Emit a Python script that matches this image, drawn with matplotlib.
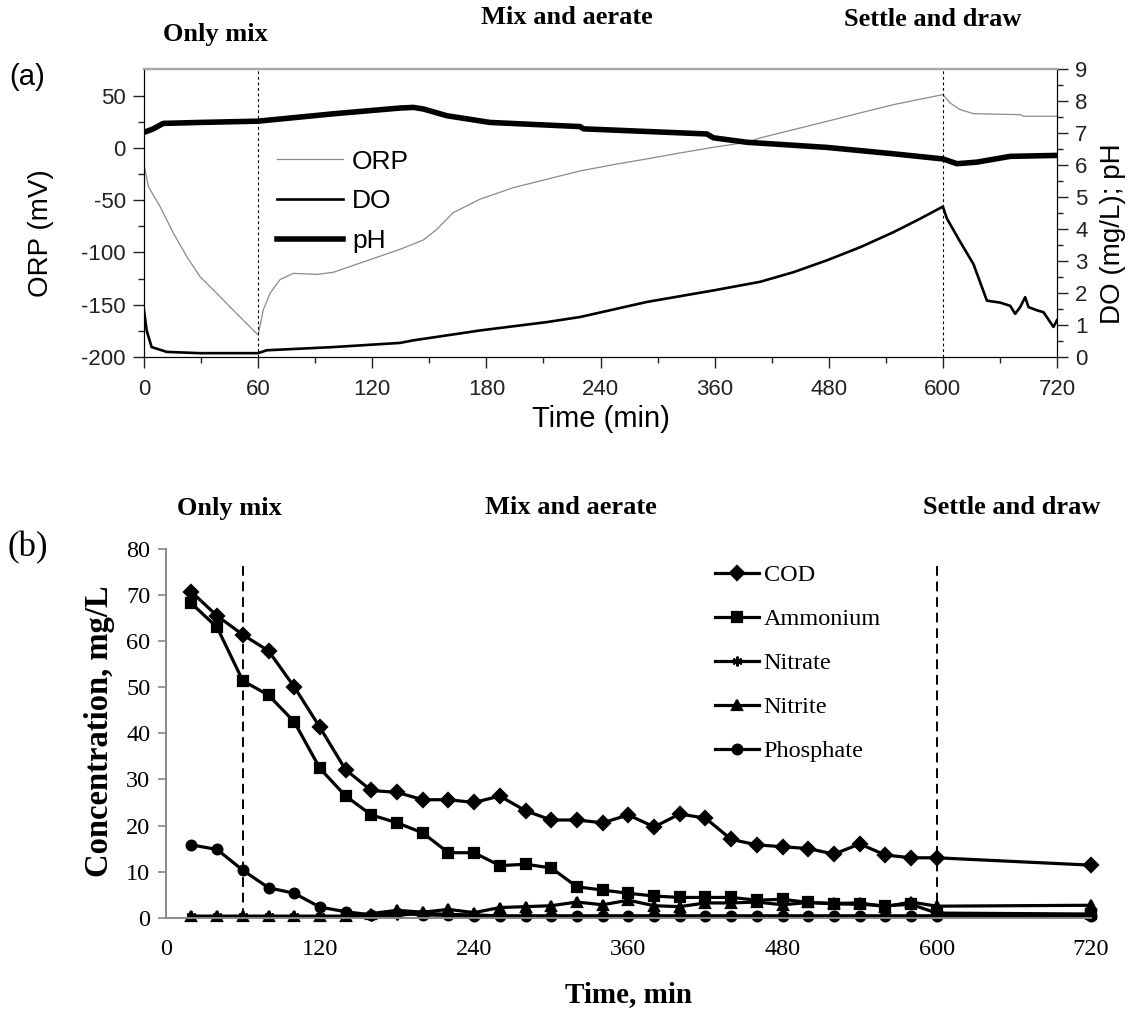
import numpy as np
import matplotlib
matplotlib.use('Agg')
import matplotlib.pyplot as plt
import matplotlib.ticker as mticker

plt.rcParams['font.family'] = ['Liberation Sans', 'DejaVu Sans']
plt.rcParams['axes.unicode_minus'] = False

# ---- panel (a): online probes (time in min) ----
orp_t = [0, 2.3, 8.4, 15.3, 22.5, 29.4, 38.2, 46.8, 60, 62.7, 66.3, 71.5, 78.5,
         90.8, 99.5, 117, 134.6, 146.9, 153.9, 162.5, 176.7, 194.2, 211.7, 229.3,
         253.6, 288.7, 323.7, 358.7, 393.9, 407.9, 442.9, 478, 513, 548, 600,
         607.7, 618.2, 632.2, 681.3, 684.8, 720]
orp_mv = [-16, -37, -56, -81, -104, -123, -139, -155, -179, -155, -139, -126, -120,
          -121, -119, -108, -97, -88, -78, -62, -49, -38, -30, -22,
          -16, -10.5, -4.8, 0.6, 5.4, 9.6, 17.5, 25.4, 33.5, 41.4, 51,
          43, 36.6, 32.8, 31.8, 30.3, 30.3]

do_t = [0, 1.4, 4.0, 11.9, 29.4, 60, 64.5, 99.5, 134.6, 141.6, 176.7, 211.7, 229.3,
        288.7, 358.7, 407.9, 442.9, 478, 513, 548, 576, 600, 604.2, 618.2, 632.2,
        646.3, 660.3, 670.8, 676, 681.3, 686.5, 690, 698.8, 705.8, 716.3, 720]
do_mgl = [1.46, 0.83, 0.31, 0.16, 0.12, 0.12, 0.21, 0.31, 0.44, 0.52, 0.83, 1.09, 1.25,
          1.72, 2.08, 2.35, 2.65, 3.02, 3.43, 3.9, 4.32, 4.7, 4.33, 3.6, 2.9,
          1.76, 1.7, 1.6, 1.35, 1.56, 1.87, 1.56, 1.46, 1.4, 0.94, 1.15]

ph_t = [0, 4.9, 10.1, 29.4, 60, 99.5, 134.6, 141.6, 146.9, 159.2, 181.9, 229.3,
        231, 351.8, 358.7, 393.9, 478, 548, 600, 614.8, 635.8, 670.8, 720]
ph_val = [7.02, 7.13, 7.3, 7.33, 7.37, 7.6, 7.78, 7.8, 7.75, 7.54, 7.33, 7.2,
          7.13, 6.97, 6.85, 6.71, 6.55, 6.35, 6.19, 6.04, 6.09, 6.27, 6.3]

a_ticks = [0, 60, 120, 180, 240, 360, 480, 600, 720]
a_minor = [30, 90, 150, 210, 300, 420, 540, 660]

# ---- panel (b): grab samples ----
t_b = [20, 40, 60, 80, 100, 120, 140, 160, 180, 200, 220, 240, 260, 280, 300, 320,
       340, 360, 380, 400, 420, 440, 460, 480, 500, 520, 540, 560, 580, 600, 720]
cod = [70.7, 65.5, 61.4, 57.9, 50.1, 41.3, 32.1, 27.6, 27.2, 25.6, 25.6, 25.0, 26.4,
       23.2, 21.2, 21.2, 20.6, 22.3, 19.7, 22.5, 21.6, 17.0, 15.8, 15.4, 15.0, 13.8,
       16.0, 13.6, 13.0, 13.0, 11.4]
ammonium = [68.2, 63.0, 51.4, 48.3, 42.5, 32.4, 26.4, 22.3, 20.6, 18.4, 14.1, 14.1,
            11.3, 11.6, 10.8, 6.7, 6.0, 5.3, 4.7, 4.4, 4.4, 4.4, 3.8, 4.0, 3.3, 3.0,
            2.9, 2.6, 2.9, 1.0, 0.8]
nitrate = [0.3, 0.3, 0.3, 0.3, 0.3, 0.3, 0.3, 0.3, 0.5, 1.0, 0.7, 0.6, 0.4, 0.4,
           0.4, 0.4, 0.4, 0.4, 0.4, 0.4, 0.4, 0.4, 0.4, 0.4, 0.4, 0.4, 0.4, 0.4,
           0.4, 0.4, 0.5]
nitrite = [0.3, 0.3, 0.3, 0.3, 0.3, 0.3, 0.3, 0.9, 1.6, 1.2, 1.8, 1.1, 2.2, 2.4,
           2.6, 3.4, 2.8, 3.8, 2.6, 2.4, 3.2, 3.2, 3.4, 2.8, 3.3, 3.1, 3.2, 2.4,
           3.4, 2.5, 2.7]
phosphate = [15.8, 14.8, 10.3, 6.5, 5.3, 2.3, 1.3, 0.6, 1.0, 0.6, 0.5, 0.4, 0.3, 0.3,
             0.3, 0.3, 0.3, 0.3, 0.3, 0.3, 0.3, 0.3, 0.3, 0.3, 0.3, 0.3, 0.3, 0.3,
             0.3, 0.3, 0.3]

phase_bounds = [60, 600]
phases = ['Only mix', 'Mix and aerate', 'Settle and draw']

W, H = 1129, 1011
fig = plt.figure(figsize=(W / 100, H / 100), dpi=100)
serif = 'Liberation Serif'


def fwd(t):
    # tick spacing is 60 min up to 240, then 120 min
    return np.interp(t, [0, 240, 720], [0, 4, 8])


def inv(p):
    return np.interp(p, [0, 4, 8], [0, 240, 720])


# ===================== (a) =====================
ax1 = fig.add_axes([144 / W, 1 - 357 / H, 913 / W, 288 / H])
ax1.set_xscale('function', functions=(fwd, inv))
ax1.set_xlim(0, 720)
ax1.set_ylim(-200, 75.5)
ax2 = ax1.twinx()
ax2.set_ylim(0, 9)

l_orp, = ax1.plot(orp_t, orp_mv, color='#8a8a8a', lw=0.9, label='ORP')
l_do, = ax2.plot(do_t, do_mgl, color='black', lw=1.9, label='DO')
l_ph, = ax2.plot(ph_t, ph_val, color='black', lw=4.0, label='pH')
for xb in phase_bounds:
    ax1.axvline(xb, color='black', lw=0.8, ls=(0, (2.5, 2.5)))

ax1.set_xticks(a_ticks)
ax1.set_xticklabels([str(t) for t in a_ticks])
ax1.xaxis.set_minor_locator(mticker.FixedLocator(a_minor))
ax1.set_yticks(np.arange(-200, 51, 50))
ax1.yaxis.set_minor_locator(mticker.FixedLocator(np.arange(-175, 50, 50)))
ax2.set_yticks(range(0, 10))
ax2.yaxis.set_minor_locator(mticker.FixedLocator(np.arange(0.5, 9, 1)))
for ax in (ax1, ax2):
    ax.tick_params(which='major', direction='out', length=8, width=1.0,
                   labelsize=16, pad=5, colors='#222222')
    ax.tick_params(which='minor', direction='out', length=4.5, width=1.0,
                   colors='#222222')
    ax.spines['top'].set_color('#a8a8a8')
    ax.spines['top'].set_linewidth(1.6)
ax1.tick_params(axis='x', which='major', pad=8)

ax1.set_ylabel('ORP (mV)', fontsize=20)
ax1.yaxis.set_label_coords(-0.099, 0.43)
ax2.set_ylabel('DO (mg/L); pH', fontsize=20)
ax2.yaxis.set_label_coords(1.047, 0.427)
ax1.set_xlabel('Time (min)', fontsize=21)
ax1.xaxis.set_label_coords(0.5, -0.165)

ax2.legend(handles=[l_orp, l_do, l_ph], loc='upper left',
           bbox_to_anchor=(0.1457, 0.72), frameon=False, fontsize=19,
           handlelength=2.5, handletextpad=0.35, labelspacing=0.6,
           borderpad=0, borderaxespad=0)

fig.text(27 / W, 1 - 77 / H, '(a)', fontsize=21, ha='center', va='center')
for txt, (px, py) in zip(phases, [(215, 35), (567, 18), (933, 20)]):
    fig.text(px / W, 1 - py / H, txt, fontsize=19, fontweight='bold',
             family=serif, ha='center', va='center')

# ===================== (b) =====================
ax3 = fig.add_axes([165.7 / W, 1 - 917.7 / H, 925.3 / W, 368.7 / H])
ax3.set_xlim(0, 720)
ax3.set_ylim(0, 80)

series = [('COD', cod, 'D', 7.5), ('Ammonium', ammonium, 's', 7),
          ('Nitrate', nitrate, (6, 2, 0), 7), ('Nitrite', nitrite, '^', 7.5),
          ('Phosphate', phosphate, 'o', 7)]
for name, vals, mk, ms in reversed(series):
    ax3.plot(t_b, vals, color='black', lw=2.3, marker=mk, markersize=ms,
             markeredgewidth=1.6, label=name, clip_on=False)
ax3.vlines(phase_bounds, 0, 76.5, colors='black', lw=1.4, linestyles=(0, (5, 3)))

ax3.set_xticks(range(0, 721, 120), labels=[str(t) for t in range(0, 721, 120)],
               fontfamily=serif)
ax3.set_yticks(range(0, 81, 10), labels=[str(v) for v in range(0, 81, 10)],
               fontfamily=serif)
ax3.tick_params(axis='x', length=0, labelsize=17.5, pad=15)
ax3.tick_params(axis='y', direction='out', length=6, width=1.2, color='#888888',
                labelsize=17.5, pad=5)
for side in ('top', 'right'):
    ax3.spines[side].set_visible(False)
for side in ('left', 'bottom'):
    ax3.spines[side].set_color('#888888')
    ax3.spines[side].set_linewidth(1.4)

ax3.set_ylabel('Concentration, mg/L', fontsize=23.5, fontweight='bold', family=serif)
ax3.yaxis.set_label_coords(-0.055, 0.506)
ax3.set_xlabel('Time, min', fontsize=21, fontweight='bold', family=serif)
ax3.xaxis.set_label_coords(0.5, -0.171)

handles, labels = ax3.get_legend_handles_labels()
ax3.legend(handles[::-1], labels[::-1], loc='upper left',
           bbox_to_anchor=(0.5936, 0.958), frameon=False,
           prop={'family': serif, 'size': 17.5}, handlelength=1.8,
           handletextpad=0.2, labelspacing=0.9, borderpad=0, borderaxespad=0)

fig.text(28 / W, 1 - 548 / H, '(b)', fontsize=25, family=serif,
         ha='center', va='center')
for txt, (px, py) in zip(phases, [(229, 508), (571, 508), (1012, 508)]):
    fig.text(px / W, 1 - py / H, txt, fontsize=19, fontweight='bold',
             family=serif, ha='center', va='center')

fig.savefig('out.png', dpi=100)
